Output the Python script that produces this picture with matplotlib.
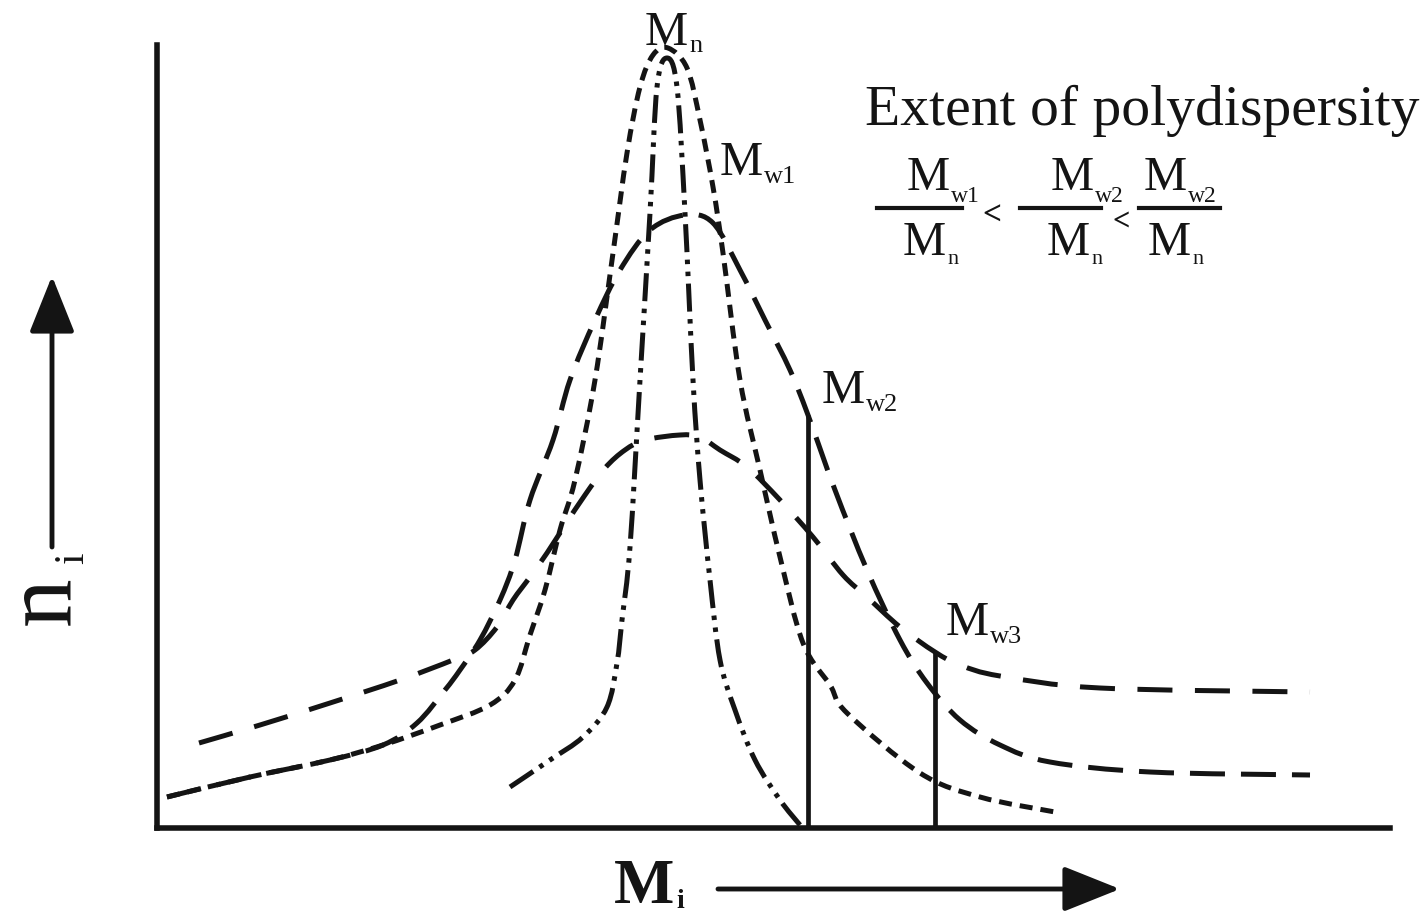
import matplotlib
matplotlib.use("Agg")
import matplotlib.pyplot as plt
import numpy as np
from matplotlib.patches import FancyArrowPatch, PathPatch
from matplotlib.lines import Line2D
from matplotlib.path import Path

plt.rcParams['font.family'] = ['Liberation Serif', 'DejaVu Serif']

# ---------------------------------------------------------------------------
# Données (unités arbitraires : M_i horizontal, n_i vertical)
# ---------------------------------------------------------------------------

# courbe étroite en tirets courts (pic M_n, M_w1)
a_m = [10, 93, 173, 226, 283, 333, 358, 373, 388, 403, 418, 438, 456, 470,
       483, 496, 511, 530, 543, 556, 566, 583, 603, 623, 646, 673, 690, 763,
       823, 898]
a_n = [31, 51, 68, 83, 103, 123, 148, 193, 238, 298, 348, 448, 575, 675,
       741, 773, 780, 760, 708, 641, 575, 448, 358, 271, 185, 143, 115, 55,
       31, 16]

# courbe très étroite tiret-point-point
b_m = [353, 393, 426, 450, 460, 465, 473, 483, 493, 500, 510, 520, 528, 536,
       543, 553, 563, 578, 598, 623, 643]
b_n = [41, 68, 91, 121, 165, 208, 281, 448, 615, 741, 770, 741, 615, 448,
       348, 248, 168, 118, 68, 28, 3]

# courbe en tirets longs (M_w2)
c_m = [10, 93, 173, 226, 260, 288, 303, 323, 343, 358, 373, 396, 413, 438,
       463, 493, 528, 556, 583, 608, 633, 651, 678, 710, 743, 770, 803, 843,
       893, 993, 1153]
c_n = [31, 51, 68, 83, 105, 138, 158, 188, 228, 268, 328, 388, 448, 508,
       558, 598, 613, 605, 558, 508, 458, 413, 338, 258, 188, 145, 108, 83,
       66, 56, 53]

# courbe large en tirets longs (M_w3)
d_m = [42, 103, 173, 243, 296, 318, 340, 356, 373, 390, 408, 428, 448, 468,
       488, 523, 543, 563, 590, 623, 656, 686, 710, 743, 778, 803, 843, 943,
       1153]
d_n = [85, 103, 125, 148, 168, 178, 201, 228, 251, 275, 303, 333, 360, 378,
       388, 393, 391, 378, 361, 328, 291, 253, 231, 201, 176, 163, 152, 140,
       136]

# positions et hauteurs des moyennes en masse
mw_m = [651, 778]
mw_n = [413, 176]

# ---------------------------------------------------------------------------
# Figure
# ---------------------------------------------------------------------------

W, H = 1424, 916
INK = "#141414"

fig = plt.figure(figsize=(W / 100, H / 100), dpi=100)
ax = fig.add_axes([157 / W, 1 - 828 / H, (1390 - 157) / W, (828 - 45) / H])
ax.set_xlim(0, 1233)
ax.set_ylim(0, 783)
for s in ("top", "right"):
    ax.spines[s].set_visible(False)
for s in ("left", "bottom"):
    ax.spines[s].set_linewidth(4)
    ax.spines[s].set_color(INK)
ax.set_xticks([])
ax.set_yticks([])


def smooth_path(xs, ys):
    """Tracé lissé (Catmull-Rom -> Bézier) passant par les points lus."""
    pts = np.column_stack([xs, ys]).astype(float)
    verts, codes = [pts[0]], [Path.MOVETO]
    for i in range(len(pts) - 1):
        p0 = pts[i - 1] if i > 0 else pts[i]
        p1, p2 = pts[i], pts[i + 1]
        p3 = pts[i + 2] if i + 2 < len(pts) else pts[i + 1]
        verts += [p1 + (p2 - p0) / 6, p2 - (p3 - p1) / 6, p2]
        codes += [Path.CURVE4] * 3
    return Path(verts, codes)


lw = 3.6
styles = [
    (a_m, a_n, (2.6, 1.6)),
    (b_m, b_n, (5.6, 1.5, 0.9, 1.5, 0.9, 1.5)),
    (c_m, c_n, (7, 3.2)),
    (d_m, d_n, (7, 4.5)),
]
for xs, ys, dash in styles:
    ax.add_patch(PathPatch(smooth_path(xs, ys), fill=False, edgecolor=INK,
                           lw=lw, linestyle=(0, dash), clip_on=False))
ax.vlines(mw_m, 0, mw_n, color=INK, lw=3.4)


# --- textes ---
def ftxt(x, y, s, **kw):
    kw.setdefault("color", INK)
    return fig.text(x / W, 1 - y / H, s, **kw)


def msub(x, y, sub, size=35, subsize=19, dy=8, weight="normal"):
    ftxt(x, y, "M", fontsize=size, ha="left", va="baseline", weight=weight)
    ftxt(x + 0.89 * size * 100 / 72 + 1, y + dy, sub, fontsize=subsize,
         ha="left", va="baseline", weight=weight)


msub(645, 45, "n", dy=7)
msub(720, 175, "w1")
msub(822, 403, "w2")
msub(946, 635, "w3")

ftxt(865, 125, "Extent of polydispersity", fontsize=41.5, ha="left",
     va="baseline")

# fractions
fracs = [(907, "w1", 903, 877, 962), (1051, "w2", 1047, 1020, 1101),
         (1144, "w2", 1148, 1139, 1220)]
ybar = 208
for xn, sub, xd, b0, b1 in fracs:
    msub(xn, ybar - 18, sub, dy=12, subsize=17)
    msub(xd, ybar + 47, "n", dy=9, subsize=16)
    fig.add_artist(Line2D([b0 / W, b1 / W], [1 - ybar / H, 1 - ybar / H],
                          color=INK, lw=3))
ftxt(992, 216, "<", fontsize=24, weight="bold", ha="center", va="center")
ftxt(1121, 222, "<", fontsize=22, weight="bold", ha="center", va="center")

# titres des axes
ftxt(45, 601, "n", fontsize=70, rotation=90, ha="center", va="center")
ftxt(73, 558, "i", fontsize=30, rotation=90, ha="center", va="center")
ftxt(614, 903, "M", fontsize=46, weight="bold", ha="left", va="baseline")
ftxt(676, 908, "i", fontsize=20, weight="bold", ha="left", va="baseline")

# flèches
for (x0, y0), (x1, y1) in [((52, 547), (52, 276)), ((718, 889), (1120, 889))]:
    fig.add_artist(FancyArrowPatch(
        (x0 / W, 1 - y0 / H), (x1 / W, 1 - y1 / H),
        transform=fig.transFigure, arrowstyle="-|>,head_length=35,head_width=14",
        mutation_scale=1, lw=3.5, color=INK, shrinkA=0, shrinkB=0))

fig.savefig("out.png", dpi=100, facecolor="white")
